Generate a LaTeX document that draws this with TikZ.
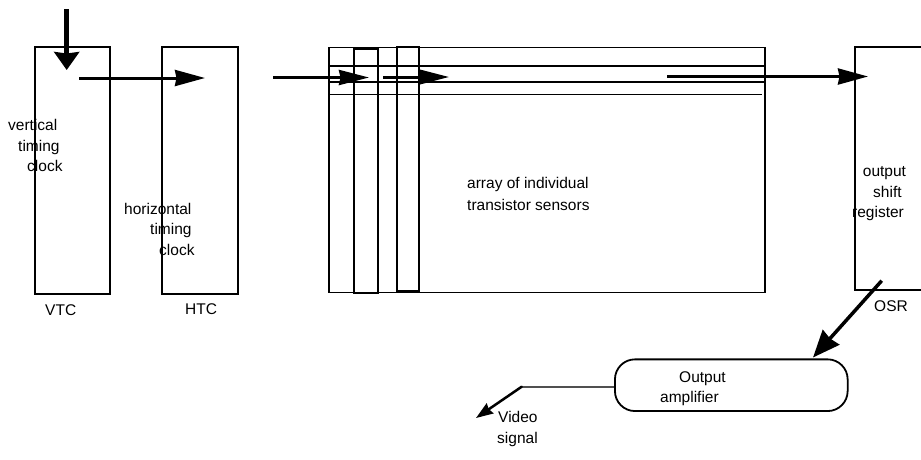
\documentclass[tikz,border=0pt]{standalone}
\usepackage{fontspec}
\setmainfont{Liberation Sans}
\usetikzlibrary{arrows.meta, positioning}
\definecolor{Ink}  {HTML}{000000}
\definecolor{Wire} {HTML}{505050}
\tikzset{
  blk/.style args={#1/#2}{
    rectangle, draw=Ink, line width=1.8pt,
    minimum width=#1, minimum height=#2, inner sep=0pt,
  },
  txt/.style={
    font=\fontsize{15.5}{20.5}\selectfont, text=Ink,
    align=left, anchor=base west, inner sep=0pt,
  },
  arr/.style args={#1/#2}{
    -{Stealth[length=#1, width=#2, inset=1.5pt]},
    line width=3pt, color=Ink,
  },
  row/.style={draw=Ink, line width=1.6pt},
  wire/.style={draw=Wire, line width=1.8pt},
}

\begin{document}
\begin{tikzpicture}[x=1pt,y=-1pt]

    \path[use as bounding box, clip] (0,0) rectangle (921,459);

    % clock and register columns
    \node[blk=75pt/247pt]    (vtc)     at ( 72.5,170.5) {};
    \node[blk=76pt/247pt]    (htc)     at (200.0,170.5) {};
    \node[blk=435.7pt/245pt] (sensarr) at (547.2,170.0) {};
    \node[blk=24pt/243.7pt]  (col1)    at (366.3,170.8) {};
    \node[blk=22pt/243.7pt]  (col2)    at (408.3,169.2) {};
    \node[blk=80pt/242.7pt]  (osr)     at (895.0,168.7) {};
    \node[blk=232.7pt/51.7pt, rounded corners=20pt]
                             (amp)     at (731.3,385.2) {};

    % rows of the sensor array
    \foreach \y/\e in {66/765, 81.7/765, 94.3/762}
      \draw[row] (sensarr.west|-{(0,\y)}) -- (\e,\y);

    % texts, placed by the baseline of their last line
    \node[txt] (vtctxt) at (8,171.7)
          {vertical\\\hspace*{10pt}timing\\\hspace*{19pt}clock};
    \node[txt] (htctxt) at (124,255.3)
          {horizontal\\\hspace*{26pt}timing\\\hspace*{35pt}clock};
    \node[txt] (arrtxt) at (467,210)
          {array of individual\\[1.2pt]transistor sensors};
    \node[txt] (osrtxt) at (852,217.7)
          {\hspace*{10.7pt}output\\\hspace*{21pt}shift\\register};
    \node[txt] (amptxt) at (660,402.7) {\hspace*{19pt}Output\\amplifier};
    \node[txt] (vtclbl) at (45,315.7)  {VTC};
    \node[txt] (htclbl) at (185,314)   {HTC};
    \node[txt] (osrlbl) at (874,311.7) {OSR};
    \node[txt] (vidtxt) at (497,443)   {\hspace*{1pt}Video\\signal};

    \coordinate (vin)   at ( 66.7,  9.3);
    \coordinate (vtip)  at ( 66.7, 70.0);
    \coordinate (hsrc)  at ( 79.0, 78.0);
    \coordinate (htip)  at (205.0, 78.0);
    \coordinate (asrc)  at (273.3, 77.5);
    \coordinate (atip)  at (369.0, 77.5);
    \coordinate (bsrc)  at (383.0, 77.0);
    \coordinate (btip)  at (449.0, 77.0);
    \coordinate (csrc)  at (667.0, 76.5);
    \coordinate (ctip)  at (868.0, 76.5);
    \coordinate (osrout)at (881.7,280.7);
    \coordinate (ampin) at (813.0,357.5);
    \coordinate (vbend) at (521.7,386.7);
    \coordinate (vout)  at (476.0,418.0);

    \draw[arr=18pt/25pt, line width=4.5pt] (vin) -- (vtip);
    \draw[arr=30pt/16pt] (hsrc) -- (htip);
    \draw[arr=30pt/15pt] (asrc) -- (atip);
    \draw[arr=30pt/15pt] (bsrc) -- (btip);
    \draw[arr=30pt/16pt] (csrc) -- (ctip);
    \draw[arr=27pt/22pt, line width=3.5pt] (osrout) -- (ampin);
    \draw[wire] (amp.west|-vbend) -- (vbend);
    \draw[arr=17pt/12pt, line width=2.5pt, line cap=round] (vbend) -- (vout);

  \end{tikzpicture}
\end{document}
